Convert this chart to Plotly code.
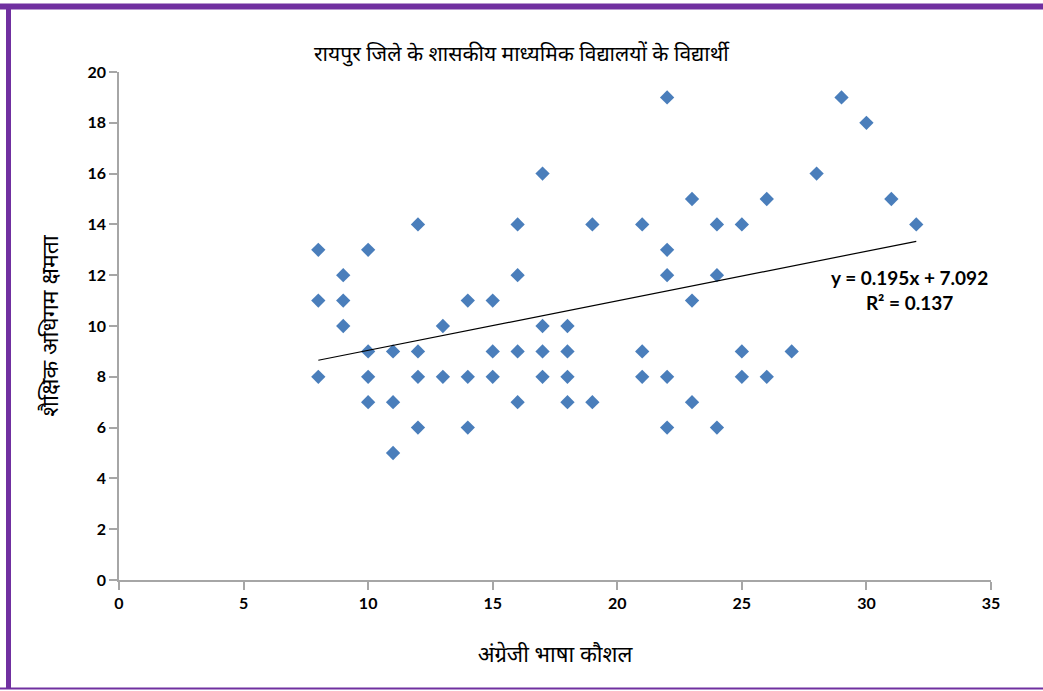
import plotly.graph_objects as go

# Data
english_skill = [8, 8, 8,
                 9, 9, 9,
                 10, 10, 10, 10,
                 11, 11, 11,
                 12, 12, 12, 12,
                 13, 13,
                 14, 14, 14,
                 15, 15, 15,
                 16, 16, 16, 16,
                 17, 17, 17, 17,
                 18, 18, 18, 18,
                 19, 19,
                 21, 21, 21,
                 22, 22, 22, 22, 22,
                 23, 23, 23,
                 24, 24, 24,
                 25, 25, 25,
                 26, 26,
                 27, 28, 29, 30, 31, 32]
learning_ability = [13, 11, 8,
                    12, 11, 10,
                    13, 9, 8, 7,
                    9, 7, 5,
                    14, 9, 8, 6,
                    10, 8,
                    11, 8, 6,
                    11, 9, 8,
                    14, 12, 9, 7,
                    16, 10, 9, 8,
                    10, 9, 8, 7,
                    14, 7,
                    14, 9, 8,
                    19, 13, 12, 8, 6,
                    15, 11, 7,
                    14, 12, 6,
                    14, 9, 8,
                    15, 8,
                    9, 16, 19, 18, 15, 14]

trend_slope = 0.195
trend_intercept = 7.092
r_squared = 0.137

x_ticks = [0, 5, 10, 15, 20, 25, 30, 35]
y_ticks = [0, 2, 4, 6, 8, 10, 12, 14, 16, 18, 20]

title_text = "रायपुर जिले के शासकीय माध्यमिक विद्यालयों के विद्यार्थी"
x_title = "अंग्रेजी भाषा कौशल"
y_title = "शैक्षिक अधिगम क्षमता"

trend_x = [min(english_skill), max(english_skill)]
trend_y = [trend_slope * v + trend_intercept for v in trend_x]

deva_font = "Noto Sans, DejaVu Sans, sans-serif"
tick_font = dict(family="Lato, Open Sans, sans-serif", size=16, color="#000000")

fig = go.Figure()
fig.add_trace(go.Scatter(
    x=english_skill, y=learning_ability, mode="markers",
    marker=dict(symbol="diamond", size=11, color="#4a7ebb"),
    showlegend=False, hoverinfo="x+y"))
fig.add_trace(go.Scatter(
    x=trend_x, y=trend_y, mode="lines",
    line=dict(color="#000000", width=1.2),
    showlegend=False, hoverinfo="skip"))

PW, PH = 872, 508  # plot area size in px
fig.update_layout(
    width=1043, height=691,
    margin=dict(l=119, r=52, t=72, b=111),
    paper_bgcolor="#ffffff", plot_bgcolor="#ffffff",
    xaxis=dict(range=[0, 35], tickvals=x_ticks, showgrid=False, zeroline=False,
               showline=True, linecolor="#a6a6a6", linewidth=1.5,
               ticks="outside", ticklen=8, tickcolor="#a6a6a6", tickwidth=1.5,
               tickfont=dict(tick_font, weight="bold"),
               title=dict(text=x_title, font=dict(family=deva_font, size=22, color="#000000"),
                          standoff=36)),
    yaxis=dict(range=[0, 20], tickvals=y_ticks, showgrid=False, zeroline=False,
               showline=True, linecolor="#a6a6a6", linewidth=1.5,
               ticks="outside", ticklen=8, tickcolor="#a6a6a6", tickwidth=1.5,
               tickfont=dict(tick_font, weight="bold"),
               title=dict(text=y_title, font=dict(family=deva_font, size=23, color="#000000"),
                          standoff=22)),
    annotations=[
        dict(text=title_text, xref="paper", yref="paper", x=(522 - 119) / PW, y=(580 - 53) / PH,
             xanchor="center", yanchor="middle", showarrow=False,
             font=dict(family=deva_font, size=21, color="#000000")),
        dict(text=f"y = {trend_slope}x + {trend_intercept}<br>R² = {r_squared}",
             xref="paper", yref="paper", x=(909 - 119) / PW, y=(580 - 290) / PH,
             xanchor="center", yanchor="middle", showarrow=False, align="center",
             font=dict(family="Lato, Open Sans, sans-serif", size=19, color="#000000", weight="bold")),
    ],
    shapes=[
        dict(type="line", xref="paper", yref="paper", x0=-119 / PW, x1=(1043 - 119) / PW,
             y0=(580 - 6.5) / PH, y1=(580 - 6.5) / PH, line=dict(color="#7030a0", width=6)),
        dict(type="line", xref="paper", yref="paper", x0=(8.5 - 119) / PW, x1=(8.5 - 119) / PW,
             y0=(580 - 4) / PH, y1=(580 - 689) / PH, line=dict(color="#7030a0", width=5)),
        dict(type="line", xref="paper", yref="paper", x0=-119 / PW, x1=(1043 - 119) / PW,
             y0=(580 - 688.5) / PH, y1=(580 - 688.5) / PH, line=dict(color="#7030a0", width=2)),
    ],
)

fig.write_html("out.html",
               config={"displayModeBar": False},
               post_script="document.body.style.margin='0px';document.body.style.overflow='hidden';")
